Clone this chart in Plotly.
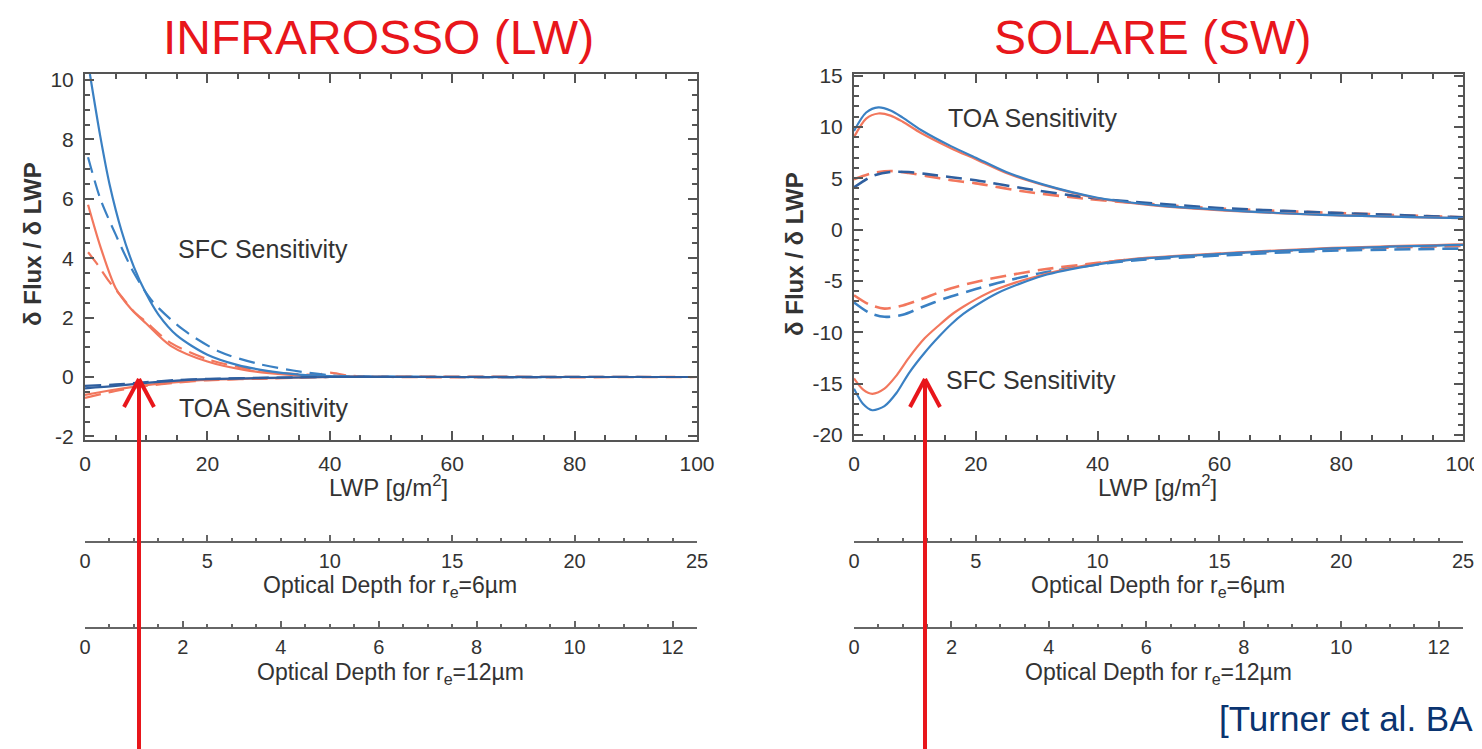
import plotly.graph_objects as go

# reference canvas size (pixels) and the page offset of the plot div (body margin)
REF_W, REF_H = 1482, 749
OFF = 8
W, H = REF_W - OFF, REF_H - OFF

# ---------------- data ----------------
# Longwave (LW) surface sensitivity
lw_sfc_blue_solid_x = [0.8, 2.5, 4, 6, 8, 10, 12, 15, 20, 25, 30, 35, 40, 50, 60, 80, 100]
lw_sfc_blue_solid_y = [10.2, 8.1, 6.5, 4.9, 3.7, 2.8, 2.1, 1.4, 0.75, 0.4, 0.2, 0.08, 0.03, 0.01, 0, 0, 0]
lw_sfc_blue_dash_x = [0.5, 2.5, 5, 8, 11, 16, 22, 28, 34, 40, 45, 60, 80, 100]
lw_sfc_blue_dash_y = [7.4, 6.0, 4.8, 3.5, 2.55, 1.6, 0.85, 0.46, 0.22, 0.06, 0.02, 0, 0, 0]
lw_sfc_red_solid_x = [0.5, 2.5, 5, 7.5, 10, 14, 20, 26, 33, 40, 50, 100]
lw_sfc_red_solid_y = [5.8, 4.4, 3.0, 2.3, 1.8, 1.05, 0.52, 0.24, 0.08, 0.02, 0, 0]
lw_sfc_red_dash_x = [0.5, 2, 4, 6, 8, 10, 14, 20, 26, 33, 38, 40, 43, 50, 100]
lw_sfc_red_dash_y = [4.2, 3.8, 3.2, 2.7, 2.2, 1.85, 1.15, 0.6, 0.3, 0.12, 0.08, 0.15, 0.05, 0.0, 0]

# Longwave (LW) TOA sensitivity
lw_toa_x = [0, 5, 10, 15, 20, 30, 40, 100]
lw_toa_blue_solid_y = [-0.38, -0.3, -0.2, -0.12, -0.07, -0.03, 0, 0]
lw_toa_blue_dash_y = [-0.3, -0.25, -0.17, -0.1, -0.06, -0.02, 0, 0]
lw_toa_red_solid_y = [-0.6, -0.42, -0.27, -0.17, -0.1, -0.04, 0, 0]
lw_toa_red_dash_y = [-0.7, -0.47, -0.3, -0.19, -0.11, -0.05, 0, 0]

# Shortwave (SW) TOA sensitivity
sw_toa_solid_x = [0, 2, 4, 6, 8, 11, 16, 20, 25, 31, 40, 50, 61, 76, 100]
sw_toa_blue_solid_y = [9.6, 11.4, 11.9, 11.6, 10.9, 9.7, 8.1, 7.0, 5.6, 4.4, 3.1, 2.35, 1.9, 1.45, 1.1]
sw_toa_red_solid_y = [9.0, 10.8, 11.3, 11.1, 10.5, 9.4, 7.9, 6.85, 5.5, 4.35, 3.05, 2.3, 1.85, 1.45, 1.1]
sw_toa_dash_x = [0, 3, 6, 9, 12, 16, 20, 28, 38, 46, 60, 80, 100]
sw_toa_blue_dash_y = [4.1, 5.2, 5.6, 5.6, 5.4, 5.1, 4.8, 4.0, 3.15, 2.7, 2.1, 1.6, 1.2]
sw_toa_red_dash_y = [4.9, 5.5, 5.7, 5.5, 5.2, 4.8, 4.5, 3.7, 3.0, 2.6, 2.05, 1.6, 1.2]

# Shortwave (SW) surface sensitivity
sw_sfc_solid_x = [0, 1.5, 3, 5, 7, 9, 11.6, 14, 16, 18, 20, 23.5, 31, 40, 46, 61, 76, 100]
sw_sfc_blue_solid_y = [-15.5, -17.0, -17.6, -17.2, -15.9, -14.0, -12.0, -10.4, -9.2, -8.2, -7.4, -6.2, -4.5, -3.4, -2.9, -2.35, -1.9, -1.5]
sw_sfc_red_solid_y = [-14.5, -15.6, -16.0, -15.5, -14.2, -12.5, -10.6, -9.3, -8.3, -7.5, -6.8, -5.8, -4.4, -3.3, -2.85, -2.3, -1.85, -1.45]
sw_sfc_dash_x = [0, 2.5, 5, 8, 11, 15, 20, 25, 31, 40, 46, 61, 76, 100]
sw_sfc_blue_dash_y = [-7.1, -8.1, -8.5, -8.3, -7.6, -6.7, -5.8, -5.0, -4.2, -3.4, -3.0, -2.5, -2.1, -1.85]
sw_sfc_red_dash_y = [-6.4, -7.3, -7.7, -7.4, -6.8, -5.9, -5.1, -4.5, -3.9, -3.25, -2.9, -2.35, -1.95, -1.6]

# axis tick values
lwp_ticks = [0, 20, 40, 60, 80, 100]
lw_y_ticks = [-2, 0, 2, 4, 6, 8, 10]
sw_y_ticks = [-20, -15, -10, -5, 0, 5, 10, 15]
tau6_ticks = [0, 5, 10, 15, 20, 25]
tau12_ticks = [0, 2, 4, 6, 8, 10, 12]

# ---------------- styling ----------------
BLUE = "#3a80c3"
NAVY = "#2f5f9f"
RED = "#f2775d"
TITLE_RED = "#e8161b"
TXT = "#333333"
AX = "#555555"
FONT = "Liberation Sans, Arial, sans-serif"


def px(x):
    """page pixel x -> paper fraction"""
    return (x - OFF) / W


def py(y):
    """page pixel y -> paper fraction"""
    return 1 - (y - OFF) / H


fig = go.Figure()


def add_line(x, y, color, dash, xa, ya, width=2.2):
    fig.add_trace(go.Scatter(
        x=x, y=y, mode="lines", xaxis=xa, yaxis=ya,
        line=dict(color=color, width=width, dash=dash, shape="spline", smoothing=0.8),
        hoverinfo="skip", showlegend=False))


DASH = "16px,8px"

# Left panel (LW)
add_line(lw_sfc_red_dash_x, lw_sfc_red_dash_y, RED, DASH, "x", "y")
add_line(lw_sfc_red_solid_x, lw_sfc_red_solid_y, RED, "solid", "x", "y")
add_line(lw_sfc_blue_dash_x, lw_sfc_blue_dash_y, BLUE, DASH, "x", "y")
add_line(lw_sfc_blue_solid_x, lw_sfc_blue_solid_y, BLUE, "solid", "x", "y")
add_line(lw_toa_x, lw_toa_red_dash_y, RED, DASH, "x", "y")
add_line(lw_toa_x, lw_toa_red_solid_y, RED, "solid", "x", "y")
add_line(lw_toa_x, lw_toa_blue_dash_y, NAVY, DASH, "x", "y")
add_line(lw_toa_x, lw_toa_blue_solid_y, NAVY, "solid", "x", "y")

# Right panel (SW)
add_line(sw_toa_dash_x, sw_toa_red_dash_y, RED, DASH, "x2", "y2", 2.6)
add_line(sw_toa_dash_x, sw_toa_blue_dash_y, NAVY, DASH, "x2", "y2", 2.6)
add_line(sw_toa_solid_x, sw_toa_red_solid_y, RED, "solid", "x2", "y2")
add_line(sw_toa_solid_x, sw_toa_blue_solid_y, BLUE, "solid", "x2", "y2")
add_line(sw_sfc_dash_x, sw_sfc_red_dash_y, RED, DASH, "x2", "y2", 2.6)
add_line(sw_sfc_dash_x, sw_sfc_blue_dash_y, BLUE, DASH, "x2", "y2", 2.6)
add_line(sw_sfc_solid_x, sw_sfc_red_solid_y, RED, "solid", "x2", "y2")
add_line(sw_sfc_solid_x, sw_sfc_blue_solid_y, BLUE, "solid", "x2", "y2")

# dummy traces to register the optical-depth axes
for i in range(3, 7):
    fig.add_trace(go.Scatter(x=[0], y=[0], mode="markers", xaxis=f"x{i}", yaxis=f"y{i}",
                             marker=dict(opacity=0), hoverinfo="skip", showlegend=False))

tickfont = dict(family=FONT, size=21, color=TXT)

main_common = dict(showline=True, linecolor=AX, linewidth=2, mirror="allticks",
                   ticks="inside", tickcolor=AX, tickwidth=1.5, ticklen=9,
                   showgrid=False, zeroline=False, tickfont=tickfont, automargin=False)

LX = [px(85), px(697)]
RX = [px(854), px(1463)]
MY = [py(440), py(74)]

layout = dict(
    width=W, height=H,
    margin=dict(l=0, r=0, t=0, b=0, pad=0, autoexpand=False),
    paper_bgcolor="white", plot_bgcolor="white",
    showlegend=False,
    xaxis=dict(domain=LX, anchor="y", range=[0, 100], tickvals=lwp_ticks,
               minor=dict(dtick=5, ticks="inside", ticklen=5, tickcolor=AX),
               ticklabelstandoff=4, **main_common),
    yaxis=dict(domain=MY, anchor="x", range=[-2.12, 10.2], tickvals=lw_y_ticks,
               ticktext=[str(v) for v in lw_y_ticks],
               minor=dict(dtick=0.5, ticks="inside", ticklen=5, tickcolor=AX),
               ticklabelstandoff=5, **main_common),
    xaxis2=dict(domain=RX, anchor="y2", range=[0, 100], tickvals=lwp_ticks,
                minor=dict(dtick=5, ticks="inside", ticklen=5, tickcolor=AX),
                ticklabelstandoff=4, **main_common),
    yaxis2=dict(domain=MY, anchor="x2", range=[-20.5, 15.15], tickvals=sw_y_ticks,
                ticktext=[str(v) for v in sw_y_ticks],
                minor=dict(dtick=1, ticks="inside", ticklen=5, tickcolor=AX),
                ticklabelstandoff=5, **main_common),
)

sec_common = dict(showline=True, linecolor="#666666", linewidth=2, ticks="inside",
                  tickcolor="#666666", tickwidth=1.5, ticklen=6, showgrid=False,
                  zeroline=False, tickfont=dict(family=FONT, size=20, color=TXT),
                  ticklabelstandoff=1, automargin=False)

sec_defs = [
    (3, LX, 541, [0, 25], tau6_ticks, 1),
    (4, LX, 627, [0, 12.5], tau12_ticks, 0.5),
    (5, RX, 541, [0, 25], tau6_ticks, 1),
    (6, RX, 627, [0, 12.5], tau12_ticks, 0.5),
]
for i, dom, ypix, rng, tv, mdt in sec_defs:
    layout[f"xaxis{i}"] = dict(domain=dom, anchor=f"y{i}", range=rng, tickvals=tv,
                               minor=dict(dtick=mdt, ticks="inside", ticklen=3, tickcolor="#666666"),
                               **sec_common)
    layout[f"yaxis{i}"] = dict(domain=[py(ypix), py(ypix - 6)], anchor=f"x{i}",
                               range=[0, 1], visible=False, automargin=False)

fig.update_layout(**layout)

ann = []


def add_text(text, x, y, size, color=TXT, xref="paper", yref="paper", angle=0,
             xanchor="center", bold=False):
    ann.append(dict(text=f"<b>{text}</b>" if bold else text, x=x, y=y, xref=xref, yref=yref,
                    showarrow=False, xanchor=xanchor, yanchor="middle", textangle=angle,
                    font=dict(family=FONT, size=size, color=color)))


# panel titles
add_text("INFRAROSSO (LW)", px(378), py(37), 48, TITLE_RED)
add_text("SOLARE (SW)", px(1152), py(37), 48, TITLE_RED)

# in-plot labels
add_text("SFC Sensitivity", 29.1, 4.3, 25, TXT, "x", "y")
add_text("TOA Sensitivity", 29.2, -1.04, 25, TXT, "x", "y")
add_text("TOA Sensitivity", 29.4, 10.87, 25, TXT, "x2", "y2")
add_text("SFC Sensitivity", 29.1, -14.67, 25, TXT, "x2", "y2")

# axis titles
add_text("δ Flux / δ LWP", px(32), py(244), 24, TXT, angle=-90, bold=True)
add_text("δ Flux / δ LWP", px(794), py(254), 24, TXT, angle=-90, bold=True)
add_text("LWP [g/m<sup>2</sup>]", px(388), py(486), 24)
add_text("LWP [g/m<sup>2</sup>]", px(1157), py(486), 24)
add_text("Optical Depth for r<sub>e</sub>=6µm", px(390), py(586), 23)
add_text("Optical Depth for r<sub>e</sub>=12µm", px(390), py(673), 23)
add_text("Optical Depth for r<sub>e</sub>=6µm", px(1158), py(586), 23)
add_text("Optical Depth for r<sub>e</sub>=12µm", px(1158), py(673), 23)

# citation (runs to the right edge, as in the original)
add_text("[Turner et al. BA", px(1217), py(718), 35, "#0a3470", xanchor="left")

fig.update_layout(annotations=ann)

# red arrows
shapes = []
for ax_x in (139, 925):
    tip = 379
    shapes.append(dict(type="line", xref="paper", yref="paper",
                       x0=px(ax_x), x1=px(ax_x), y0=py(REF_H + 5), y1=py(tip + 2),
                       line=dict(color=TITLE_RED, width=4)))
    for dx in (-15, 15):
        shapes.append(dict(type="line", xref="paper", yref="paper",
                           x0=px(ax_x), y0=py(tip), x1=px(ax_x + dx), y1=py(tip + 28),
                           line=dict(color=TITLE_RED, width=4)))
fig.update_layout(shapes=shapes)

fig.write_html("out.html")
